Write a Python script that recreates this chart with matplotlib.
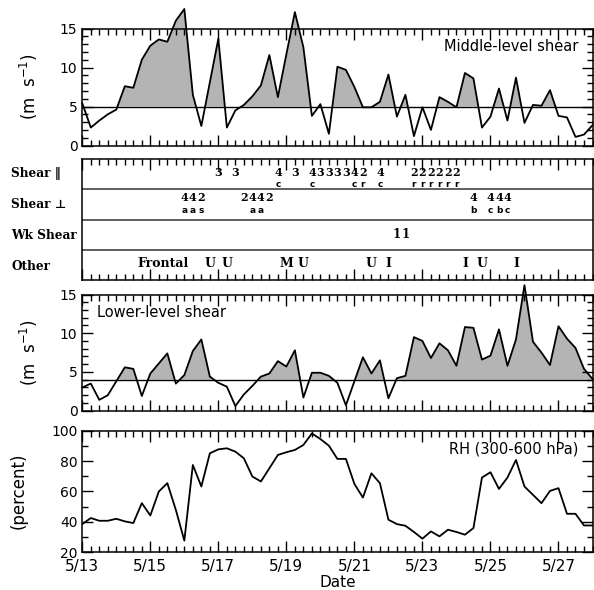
import numpy as np
import matplotlib
matplotlib.use('Agg')
import matplotlib.pyplot as plt
from matplotlib.ticker import MultipleLocator

plt.rcParams['font.family'] = 'DejaVu Sans'

# 6-hourly values from 5/13 00Z to 5/28 00Z
mid_shear = [5.4, 2.3, 3.2, 4.0, 4.6, 7.6, 7.4, 11.0, 12.8, 13.6,
             13.3, 16.0, 17.5, 6.5, 2.5, 8.1, 13.7, 2.3, 4.5, 5.2,
             6.3, 7.7, 11.6, 6.2, 11.7, 17.1, 12.6, 3.8, 5.3, 1.5,
             10.1, 9.7, 7.5, 4.9, 4.9, 5.6, 9.1, 3.7, 6.5, 1.2,
             4.9, 2.0, 6.2, 5.6, 4.9, 9.3, 8.6, 2.3, 3.7, 7.3,
             3.2, 8.7, 2.9, 5.2, 5.1, 7.1, 3.8, 3.6, 1.1, 1.4, 2.6]
low_shear = [3.0, 3.5, 1.4, 2.0, 3.8, 5.6, 5.4, 1.9, 4.8, 6.1,
             7.4, 3.5, 4.6, 7.7, 9.2, 4.4, 3.6, 3.1, 0.6, 2.1,
             3.2, 4.4, 4.8, 6.4, 5.7, 7.8, 1.7, 4.9, 4.9, 4.5,
             3.6, 0.7, 3.8, 6.9, 4.8, 6.5, 1.6, 4.2, 4.5, 9.5,
             9.0, 6.8, 8.7, 7.8, 5.8, 10.8, 10.7, 6.6, 7.1, 10.5,
             5.8, 9.2, 16.2, 8.9, 7.5, 5.9, 10.9, 9.3, 8.1, 5.4, 4.1]
rh = [38.4, 42.4, 40.6, 40.6, 41.9, 40.2, 39.1, 52.2, 44.1, 59.9,
      65.4, 47.8, 27.5, 77.4, 63.2, 85.1, 87.7, 88.4, 86.2, 81.8,
      69.8, 66.5, 75.2, 84.0, 85.8, 87.3, 90.6, 98.2, 94.5, 90.1,
      81.4, 81.4, 64.9, 55.9, 71.9, 65.4, 41.3, 38.4, 37.3, 33.2,
      28.8, 33.6, 30.3, 34.7, 33.2, 31.4, 35.8, 69.1, 72.6, 61.6,
      69.1, 80.7, 63.2, 57.7, 52.2, 60.3, 62.1, 45.2, 45.2, 37.5, 37.5]
mid_thresh = 5
low_thresh = 4

date_ticks = [0, 2, 4, 6, 8, 10, 12, 14]
date_labels = ['5/13', '5/15', '5/17', '5/19', '5/21', '5/23', '5/25', '5/27']

# (6-hourly index, number, sub letter)
shear_par = [(16, '3', ''), (18, '3', ''), (23, '4', 'c'), (25, '3', ''),
             (27, '4', 'c'), (28, '3', ''), (29, '3', ''), (30, '3', ''),
             (31, '3', ''), (32, '4', 'c'), (33, '2', 'r'), (35, '4', 'c'),
             (39, '2', 'r'), (40, '2', 'r'), (41, '2', 'r'), (42, '2', 'r'),
             (43, '2', 'r'), (44, '2', 'r')]
shear_perp = [(12, '4', 'a'), (13, '4', 'a'), (14, '2', 's'),
              (19, '2', ''), (20, '4', 'a'), (21, '4', 'a'), (22, '2', ''),
              (46, '4', 'b'), (48, '4', 'c'), (49, '4', 'b'), (50, '4', 'c')]
weak_shear = [(37, '1'), (38, '1')]
other = [(9.5, 'Frontal'), (15, 'U'), (17, 'U'), (24, 'M'), (26, 'U'),
         (34, 'U'), (36, 'I'), (45, 'I'), (47, 'U'), (51, 'I')]
row_names = ['Shear \u2016', 'Shear \u22a5', 'Wk Shear', 'Other']

x = np.arange(len(mid_shear)) / 4.0
W, H = 594, 590
fig = plt.figure(figsize=(W / 100, H / 100), dpi=100)


def box(top, bottom):
    left, right = 82.3, 592.5
    return [left / W, 1 - bottom / H, (right - left) / W, (bottom - top) / H]


def style(ax, ymaj=None, ymin=None):
    ax.set_xlim(0, 15)
    ax.set_xticks(date_ticks)
    ax.xaxis.set_minor_locator(MultipleLocator(0.25))
    if ymaj:
        ax.yaxis.set_major_locator(MultipleLocator(ymaj))
        ax.yaxis.set_minor_locator(MultipleLocator(ymin))
    ax.tick_params(which='both', direction='in', top=True, right=True,
                   labelsize=10, width=1)
    ax.tick_params(which='major', length=8)
    ax.tick_params(which='minor', length=4)
    for s in ax.spines.values():
        s.set_linewidth(1.1)


gray = '#b4b4b4'

# middle-level shear
ax1 = fig.add_axes(box(28.5, 145.5))
y = np.array(mid_shear)
ax1.fill_between(x, y, mid_thresh, where=y > mid_thresh, interpolate=True,
                 color=gray, lw=0, clip_on=False)
ax1.plot(x, y, color='black', lw=1.3, clip_on=False)
ax1.axhline(mid_thresh, color='black', lw=1)
ax1.set_ylim(0, 15)
style(ax1, 5, 1)
ax1.set_xticklabels([])
ax1.text(0.9726, 0.842, 'Middle-level shear', transform=ax1.transAxes,
         ha='right', va='center', fontsize=10.5)
fig.text(29 / W, 1 - 87 / H, '(m  s$^{-1}$)', rotation=90, ha='center',
         va='center', fontsize=12)

# category panel
ax2 = fig.add_axes(box(159, 280))
ax2.set_ylim(0, 4)
style(ax2)
ax2.set_yticks([])
ax2.set_xticklabels([])
for yy in [1, 2, 3]:
    ax2.axhline(yy, color='#333333', lw=1.1)
serif = ['DejaVu Serif', 'DejaVu Sans']
for k, name in enumerate(row_names):
    ax2.text(11 / W, 1 - (174 + 30.8 * k) / H, name, transform=fig.transFigure,
             ha='left', va='center', fontsize=8.7, fontweight='bold',
             family=serif)


def row_y(ypx):
    return (280 - ypx) / 30.25


for rows, ynum, ylet in [(shear_par, 172.2, 184.8), (shear_perp, 197.6, 210.2)]:
    for i, num, let in rows:
        ax2.text(i / 4.0, row_y(ynum), num, ha='center', va='center',
                 fontsize=8, fontweight='bold', family=serif)
        if let:
            ax2.text(i / 4.0, row_y(ylet), let, ha='center', va='center',
                     fontsize=6.5, fontweight='bold')
for i, num in weak_shear:
    ax2.text(i / 4.0, 1.5, num, ha='center', va='center', fontsize=8.5,
             fontweight='bold', family=serif)
for i, lab in other:
    ax2.text(i / 4.0, 0.55, lab, ha='center', va='center', fontsize=9,
             fontweight='bold', family=serif)

# lower-level shear
ax3 = fig.add_axes(box(294.5, 410.7))
y = np.array(low_shear)
ax3.fill_between(x, y, low_thresh, where=y > low_thresh, interpolate=True,
                 color=gray, lw=0, clip_on=False)
ax3.plot(x, y, color='black', lw=1.3, clip_on=False)
ax3.axhline(low_thresh, color='black', lw=1)
ax3.set_ylim(0, 15)
style(ax3, 5, 1)
ax3.set_xticklabels([])
ax3.text(0.028, 0.843, 'Lower-level shear', transform=ax3.transAxes,
         ha='left', va='center', fontsize=10.5)
fig.text(29 / W, 1 - 352.6 / H, '(m  s$^{-1}$)', rotation=90, ha='center',
         va='center', fontsize=12)

# relative humidity
ax4 = fig.add_axes(box(430.7, 552))
ax4.plot(x, rh, color='black', lw=1.3)
ax4.set_ylim(20, 100)
style(ax4, 20, 10)
ax4.set_xticklabels(date_labels)
ax4.tick_params(axis='x', labelsize=11, pad=5)
ax4.text(0.9726, 0.849, 'RH (300-600 hPa)', transform=ax4.transAxes,
         ha='right', va='center', fontsize=10.5)
ax4.set_xlabel('Date', fontsize=11, labelpad=1)
fig.text(19 / W, 1 - 491 / H, '(percent)', rotation=90, ha='center',
         va='center', fontsize=12)

fig.savefig('out.png', dpi=100)
